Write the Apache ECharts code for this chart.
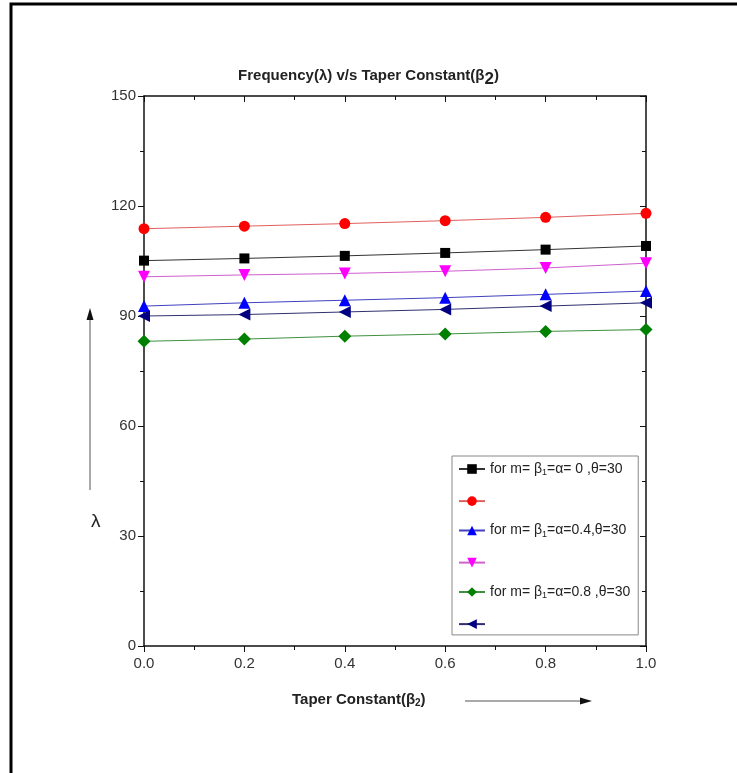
<!DOCTYPE html>
<html><head><meta charset="utf-8">
<script src="https://cdn.jsdelivr.net/npm/echarts@6/dist/echarts.min.js"></script>
<style>html,body{margin:0;padding:0;background:#fff}#c{width:737px;height:773px}</style>
</head><body><div id="c"></div>
<script>
const xValues = [0.0, 0.2, 0.4, 0.6, 0.8, 1.0];
const xTicks = ['0.0','0.2','0.4','0.6','0.8','1.0'];
const yTicks = [0, 30, 60, 90, 120, 150];
const blackSquare = [105.1, 105.7, 106.4, 107.2, 108.1, 109.1];
const redCircle   = [113.8, 114.5, 115.2, 116.0, 116.9, 118.0];
const blueUp      = [92.7, 93.6, 94.3, 95.0, 95.9, 96.8];
const magentaDown = [100.7, 101.2, 101.6, 102.2, 103.1, 104.4];
const greenDiamond= [83.1, 83.7, 84.5, 85.1, 85.8, 86.3];
const navyLeft    = [90.0, 90.4, 91.1, 91.8, 92.7, 93.6];
const legendLabels = {
  s1: 'for m= β{sub|1}=α= 0 ,θ=30', s2: '',
  s3: 'for m= β{sub|1}=α=0.4,θ=30', s4: '',
  s5: 'for m= β{sub|1}=α=0.8 ,θ=30', s6: ''
};
const FONT = "'Liberation Sans Narrow','Arial Narrow','Liberation Sans',sans-serif";

function pairs(vals){ return xValues.map((x,i)=>[x, vals[i]]); }
function mk(name, vals, color, lineColor, symbol, rot, size){
  return { name, type:'line', data:pairs(vals), symbol, symbolRotate:rot, symbolSize:size,
    itemStyle:{color}, lineStyle:{color:lineColor, width:1}, z:3 };
}
const axisCommon = {
  axisLine:{show:true, onZero:false, lineStyle:{color:'#111', width:1.5}},
  splitLine:{show:false}
};
const chart = echarts.init(document.getElementById('c'), null, {renderer:'canvas'});
chart.setOption({
  animation:false,
  backgroundColor:'#fff',
  title:{ text:'Frequency(λ) v/s Taper Constant(β{big|2})', left:'center', top:58,
    textStyle:{fontFamily:FONT, fontWeight:'bold', fontSize:15, color:'#222',
      rich:{big:{fontFamily:FONT, fontWeight:'bold', fontSize:17, color:'#222', padding:[8,0,0,0]}}}},
  grid:{ left:144, top:96, right:91, bottom:127, containLabel:false },
  xAxis:[Object.assign({ type:'value', min:0, max:1, interval:0.2, position:'bottom',
    axisTick:{show:true, inside:false, length:6, lineStyle:{color:'#111'}},
    minorTick:{show:true, splitNumber:2, length:4, lineStyle:{color:'#111'}},
    axisLabel:{fontFamily:FONT, fontSize:15, color:'#333', margin:10,
      formatter:v=>xTicks[Math.round(v/0.2)]}}, axisCommon),
    Object.assign({ type:'value', min:0, max:1, interval:0.2, position:'top',
    axisTick:{show:true, inside:true, length:6, lineStyle:{color:'#111'}},
    minorTick:{show:true, splitNumber:2, length:4, lineStyle:{color:'#111'}},
    axisLabel:{show:false}}, axisCommon)],
  yAxis:[Object.assign({ type:'value', min:0, max:150, interval:30, position:'left',
    axisTick:{show:true, inside:false, length:6, lineStyle:{color:'#111'}},
    minorTick:{show:true, splitNumber:2, length:4, lineStyle:{color:'#111'}},
    axisLabel:{fontFamily:FONT, fontSize:15, color:'#333', margin:8,
      formatter:v=>String(yTicks[Math.round(v/30)])}}, axisCommon),
    Object.assign({ type:'value', min:0, max:150, interval:30, position:'right',
    axisTick:{show:true, inside:true, length:6, lineStyle:{color:'#111'}},
    minorTick:{show:true, splitNumber:2, length:4, lineStyle:{color:'#111'}},
    axisLabel:{show:false}}, axisCommon)],
  legend:{ orient:'vertical', left:452, top:456,
    backgroundColor:'#fff', borderColor:'#888', borderWidth:1, padding:[6,8,6,6],
    itemWidth:26, itemHeight:12, itemGap:17.6,
    data:['s1','s2','s3','s4','s5','s6'],
    formatter: n => legendLabels[n],
    textStyle:{fontFamily:FONT, fontSize:14, color:'#222',
      rich:{sub:{fontFamily:FONT, fontSize:9, color:'#222', padding:[8,0,0,0]}}}},
  series:[
    mk('s1', blackSquare, '#000000', '#333333', 'rect', 0, 10),
    mk('s2', redCircle, '#ff0000', '#e06060', 'circle', 0, 11),
    mk('s3', blueUp, '#0000ff', '#4040c0', 'triangle', 0, 12),
    mk('s4', magentaDown, '#ff00ff', '#d060d0', 'triangle', 180, 12),
    mk('s5', greenDiamond, '#008000', '#409040', 'diamond', 0, 13),
    mk('s6', navyLeft, '#000080', '#303070', 'triangle', 90, 12)
  ],
  graphic:[
    {type:'rect', shape:{x:11, y:4, width:740, height:790}, style:{fill:'none', stroke:'#000', lineWidth:3}, silent:true},
    {type:'text', left:91, top:512, style:{text:'λ', fontFamily:FONT, fontSize:19, fill:'#222'}},
    {type:'line', shape:{x1:90, y1:490, x2:90, y2:318}, style:{stroke:'#555', lineWidth:1}},
    {type:'polygon', shape:{points:[[90,308],[86.5,320],[93.5,320]]}, style:{fill:'#111'}},
    {type:'text', left:292, top:692, style:{text:'Taper Constant(β{sub|2})', fontFamily:FONT, fontWeight:'bold', fontSize:15, fill:'#222',
      rich:{sub:{fontFamily:FONT, fontWeight:'bold', fontSize:10, fill:'#222', padding:[8,0,0,0]}}}},
    {type:'line', shape:{x1:465, y1:701, x2:582, y2:701}, style:{stroke:'#555', lineWidth:1}},
    {type:'polygon', shape:{points:[[592,701],[580,697.5],[580,704.5]]}, style:{fill:'#111'}}
  ]
});
</script></body></html>
